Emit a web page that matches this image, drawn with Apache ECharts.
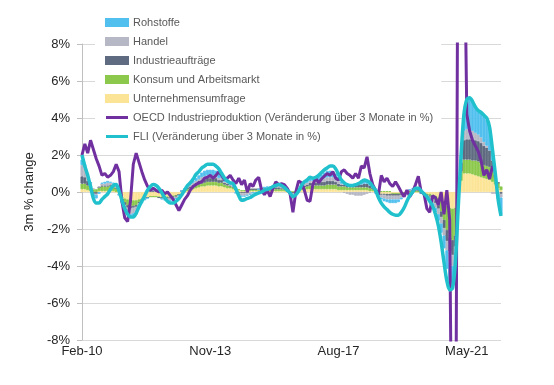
<!DOCTYPE html>
<html><head><meta charset="utf-8">
<script src="https://cdn.jsdelivr.net/npm/echarts@6/dist/echarts.min.js"></script>
<style>html,body{margin:0;padding:0;background:#fff}#c{width:554px;height:385px}</style>
</head><body><div id="c"></div>
<script>
// Categories: monthly from Feb-10, 148 months
const monthNames=['Jan','Feb','Mar','Apr','May','Jun','Jul','Aug','Sep','Oct','Nov','Dec'];
const categories=[];
for(let k=0;k<148;k++){const m=(1+k)%12;const y=2010+Math.floor((1+k)/12);categories.push(monthNames[m]+'-'+String(y%100).padStart(2,'0'));}
const tickLabels=['Feb-10','Nov-13','Aug-17','May-21'];
const yTicks=[-8,-6,-4,-2,0,2,4,6,8];

const unternehmensumfrage=[
0.15,0.15,0.1,0.05,0,0,0.05,0.05,0.05,0.05,0.05,0.05,0,
-0.1,-0.25,-0.35,-0.4,-0.45,-0.45,-0.45,-0.4,-0.35,-0.3,
-0.3,-0.25,-0.25,-0.25,-0.25,-0.25,-0.25,-0.25,-0.25,-0.2,-0.2,-0.15,-0.1,
0,0.05,0.1,0.15,0.2,0.25,0.3,0.3,0.35,0.35,0.35,0.35,0.3,0.3,0.25,0.2,0.2,0.15,
0.1,0.1,0.05,0.05,0.05,0.05,0.05,0.05,0.05,0.05,0.05,0.05,0.05,0.05,0.05,0.05,0.05,0.05,0,
0,0,0,
0.05,0.1,0.1,0.15,0.15,0.15,0.15,0.15,0.15,0.15,0.15,0.15,0.15,0.15,0.1,
0.1,0.1,0.1,0.1,0.1,0.1,0.1,0.1,0.1,0.1,0.05,0.05,0,
-0.05,-0.1,-0.1,-0.1,-0.1,-0.1,-0.1,-0.1,-0.1,-0.05,-0.05,0,0,0,0,-0.05,
-0.05,-0.1,-0.1,-0.15,-0.2,-0.3,-0.45,-0.6,-0.75,-0.85,-0.9,-0.85,-0.2,
0.6,1.0,1.0,1.0,0.95,0.9,0.85,0.8,0.75,0.7,0.65,0.55,0.4,0.2,0.1];

const konsum=[
0.3,0.3,0.25,0.2,0.15,0.15,0.2,0.25,0.25,0.25,0.3,0.3,0.2,
0.05,-0.1,-0.2,-0.3,-0.3,-0.3,-0.25,-0.15,-0.1,-0.05,
0,0,0,0,-0.05,-0.05,-0.05,-0.05,-0.05,-0.05,0,0,0.05,
0.05,0.1,0.1,0.1,0.15,0.15,0.15,0.2,0.2,0.2,0.2,0.2,0.2,0.2,0.15,0.15,0.1,0.1,
0.05,0.05,0.05,0.05,0.05,0.1,0.1,0.1,0.1,0.1,0.1,0.1,0.1,0.1,0.1,0.1,0.1,0.1,0.05,
0,0,0,
0.05,0.1,0.15,0.15,0.2,0.2,0.2,0.2,0.2,0.2,0.25,0.25,0.25,0.25,0.2,
0.2,0.2,0.15,0.15,0.15,0.15,0.15,0.15,0.15,0.15,0.15,0.1,0.05,
0.05,0.05,0.05,0.05,0.05,0,0,0,0,0,0.05,0.05,0.05,0.05,0.05,0,
-0.05,-0.05,-0.1,-0.15,-0.25,-0.4,-0.6,-0.9,-1.3,-1.6,-1.7,-1.5,-0.2,
0.5,0.75,0.75,0.75,0.75,0.8,0.8,0.75,0.7,0.7,0.7,0.55,0.35,0.3,0.2];

const industrieauftraege=[
0.4,0.35,0.25,0.1,-0.1,-0.1,0,0.05,0.05,0.05,0.05,0,0,
-0.05,-0.1,-0.15,-0.15,-0.15,-0.1,-0.1,-0.05,0,0,
0,0.05,0.05,0.05,0,-0.05,-0.05,-0.05,-0.05,-0.05,-0.05,0,0,
0.05,0.1,0.1,0.15,0.15,0.2,0.2,0.2,0.2,0.2,0.2,0.2,0.15,0.15,0.1,0.1,0.05,0.05,
0,-0.05,-0.05,-0.05,-0.05,0,0,0,0,0.05,0.05,0.05,0.05,0.1,0.1,0.1,0.05,0.05,0,
-0.05,-0.05,-0.05,
0,0.05,0.1,0.1,0.15,0.15,0.15,0.15,0.2,0.2,0.2,0.2,0.2,0.15,0.15,
0.1,0.1,0.1,0.1,0.1,0.1,0.15,0.15,0.2,0.2,0.15,0.1,0.05,
0,-0.05,-0.05,-0.1,-0.1,-0.1,-0.1,-0.1,-0.05,-0.05,0,0.05,0.05,0.05,0.05,0,
-0.05,-0.05,-0.05,-0.1,-0.15,-0.2,-0.3,-0.45,-0.6,-0.75,-0.8,-0.6,-0.1,
0.5,1.05,1.1,1.1,1.1,1.1,1.1,1.1,1.05,1.0,0.9,0.6,0.2,0,-0.1];

const handel=[
0.6,0.5,0.3,0.15,0.05,-0.05,0.05,0.1,0.1,0.15,0.1,0.1,0.1,
0,-0.1,-0.2,-0.25,-0.3,-0.3,-0.25,-0.15,-0.05,0,
0.05,0.05,0.05,0.05,0.05,0,-0.05,-0.1,-0.1,-0.1,-0.1,-0.05,0,
0.05,0.05,0.1,0.1,0.1,0.1,0.15,0.15,0.15,0.15,0.15,0.1,0.1,0.1,0.05,0.05,0.05,0,
-0.05,-0.1,-0.15,-0.15,-0.1,-0.1,-0.05,-0.05,0,0,0.05,0.05,0.05,0.05,0.1,0.1,0.1,0.05,0.05,
-0.05,-0.1,-0.05,
0,0.05,0.1,0.1,0.1,0.1,0.1,0.15,0.15,0.2,0.2,0.2,0.2,0.2,0.15,
0.05,-0.05,-0.1,-0.15,-0.15,-0.2,-0.2,-0.2,-0.15,-0.1,-0.05,0,-0.05,
-0.1,-0.15,-0.2,-0.2,-0.2,-0.2,-0.2,-0.2,-0.15,-0.1,-0.05,0,0.05,0.05,0.05,0,
-0.05,-0.1,-0.15,-0.2,-0.25,-0.3,-0.35,-0.4,-0.5,-0.6,-0.6,-0.4,-0.1,
0.2,0.5,0.55,0.5,0.5,0.4,0.35,0.3,0.2,0.1,0,-0.1,-0.1,-0.1,-0.2];

const rohstoffe=[
0.3,0.2,0.1,0,-0.15,-0.2,-0.1,0.05,0.1,0.1,0.05,0.05,0.05,
0,-0.05,-0.1,-0.1,-0.1,-0.15,-0.15,-0.1,-0.1,-0.1,
-0.05,0.05,0.05,0.05,0,-0.05,-0.05,-0.05,-0.05,-0.05,0,0,0,
0.05,0.05,0.05,0.1,0.15,0.2,0.25,0.3,0.3,0.3,0.3,0.3,0.25,0.2,0.15,0.1,0.05,0.05,
0,-0.05,-0.05,-0.05,-0.05,-0.05,0,0,0,0,0,0.05,0.05,0.05,0.05,0.05,0.05,0,0,
-0.05,-0.1,-0.05,
0,0.05,0.05,0.1,0.15,0.1,0.15,0.2,0.25,0.3,0.35,0.35,0.3,0.25,0.2,
0.1,0.05,0.05,0.05,0.05,0.1,0.1,0.15,0.15,0.15,0.1,0.05,0,
-0.05,-0.1,-0.15,-0.15,-0.2,-0.2,-0.2,-0.15,-0.1,-0.05,0,0.05,0.05,0.1,0.05,0,
-0.05,-0.1,-0.15,-0.2,-0.25,-0.35,-0.5,-0.7,-1.0,-1.2,-1.2,-0.8,0,
0.2,0.9,1.6,1.7,1.55,1.4,1.3,1.35,1.4,1.4,1.2,0.6,0.1,-0.3,-0.9];

const oecd=[
2.0,2.6,2.1,2.8,2.3,1.8,1.4,0.9,1.0,0.8,0.9,1.1,1.5,1.1,-0.5,-1.4,-1.6,-0.5,1.5,2.1,
1.6,1.1,0.65,0.3,0.1,0.2,0.1,0.0,0.1,-0.1,0.0,-0.2,-0.4,-0.7,-1.0,-0.7,-0.4,-0.2,0.1,0.3,
0.4,0.5,0.55,0.75,0.8,0.9,0.75,0.9,1.1,0.9,0.65,0.75,0.9,0.65,0.45,0.75,0.4,0.65,0.0,0.45,
0.3,0.65,0.8,0.1,-0.15,0.1,-0.25,0.2,0.55,0.4,0.45,0.4,0.2,-0.1,-1.1,0.0,0.6,0.5,0.1,-0.45,
-0.5,0.4,0.75,0.5,0.7,0.85,1.0,0.9,1.1,0.75,0.65,1.1,1.2,1.0,0.9,0.75,1.0,0.75,1.4,1.3,
1.9,1.0,0.4,0.1,-0.15,0.9,0.55,0.75,0.45,0.3,0.55,0.3,0.0,-0.25,0.1,-0.25,0.0,0.4,0.85,0.0,
-0.1,-0.9,-1.1,-0.2,-0.3,-0.7,0.0,-1.2,0.1,-1.5,-20,-20,20,20,16,4.2,3.3,2.8,2.5,2.2,
1.7,0.9,1.2,0.7,1.4];

const fli=[
2.0,1.4,0.9,0.3,-0.35,-0.6,-0.6,-0.4,-0.25,-0.1,0.15,0.35,0.4,0.05,-0.45,-0.9,-1.2,-1.35,-1.35,-1.15,
-0.8,-0.5,-0.2,0.1,0.3,0.4,0.35,0.2,-0.05,-0.3,-0.5,-0.6,-0.6,-0.5,-0.35,-0.15,0.1,0.35,0.5,0.7,
0.95,1.1,1.3,1.4,1.5,1.5,1.5,1.4,1.25,1.0,0.75,0.6,0.5,0.45,0.15,-0.2,-0.45,-0.42,-0.35,-0.3,
-0.2,-0.12,-0.05,0.0,0.1,0.15,0.2,0.3,0.35,0.4,0.35,0.25,0.1,-0.05,-0.25,-0.15,0.05,0.35,0.55,0.65,
0.8,0.75,0.8,0.9,1.05,1.2,1.3,1.4,1.4,1.25,0.95,0.65,0.5,0.4,0.35,0.35,0.4,0.45,0.55,0.65,
0.6,0.5,0.3,0.1,-0.3,-0.6,-0.8,-0.95,-1.1,-1.2,-1.25,-1.25,-1.1,-0.85,-0.5,-0.2,0.0,0.2,0.2,0.05,
-0.1,-0.25,-0.5,-0.75,-1.2,-1.8,-2.7,-3.8,-4.8,-5.3,-5.2,-3.8,-0.8,2.0,4.2,5.0,5.1,4.9,4.6,4.4,
4.3,4.15,4.0,3.5,2.3,1.0,-0.4,-1.3];

const FONT='"Liberation Sans", Arial, sans-serif';
const LINE_ICON='path://M0,0h0.05v0.05h-0.05z M0,2h23v3h-23z M22.95,6.95h0.05v0.05h-0.05z';
const barSeries=[
 {name:'Unternehmensumfrage',data:unternehmensumfrage,color:'#FCE497'},
 {name:'Konsum und Arbeitsmarkt',data:konsum,color:'#8CC84B'},
 {name:'Industrieaufträge',data:industrieauftraege,color:'#5F6B80'},
 {name:'Handel',data:handel,color:'#B6B8C5'},
 {name:'Rohstoffe',data:rohstoffe,color:'#52C0EF'}
].map(s=>({name:s.name,type:'bar',stack:'total',data:s.data,barWidth:3,large:false,
  itemStyle:{color:s.color,borderColor:s.color,borderWidth:0.8,opacity:1},
  emphasis:{disabled:true},animation:false}));

const chart=echarts.init(document.getElementById('c'),null,{renderer:'canvas'});
chart.setOption({
 animation:false,
 textStyle:{fontFamily:FONT},
 grid:{left:82,right:53,top:44,bottom:45,containLabel:false},
 legend:{
  orient:'vertical',left:95,top:10,
  padding:[6,8,6,10],backgroundColor:'#ffffff',
  itemWidth:22,itemHeight:7,itemGap:6,
  textStyle:{fontFamily:FONT,fontSize:11,color:'#595959',lineHeight:13},
  data:[
   {name:'Rohstoffe',icon:'rect'},
   {name:'Handel',icon:'rect'},
   {name:'Industrieaufträge',icon:'rect'},
   {name:'Konsum und Arbeitsmarkt',icon:'rect'},
   {name:'Unternehmensumfrage',icon:'rect'},
   {name:'OECD Industrieproduktion (Veränderung über 3 Monate in %)',icon:LINE_ICON},
   {name:'FLI (Veränderung über 3 Monate in %)',icon:LINE_ICON}
  ]
 },
 xAxis:{
  type:'category',data:categories,boundaryGap:false,
  axisLine:{show:false},axisTick:{show:false},splitLine:{show:false},
  axisLabel:{interval:(i,v)=>tickLabels.includes(v),fontFamily:FONT,fontSize:13,color:'#262626',margin:5}
 },
 yAxis:{
  type:'value',min:yTicks[0],max:yTicks[yTicks.length-1],interval:2,
  name:'3m % change',nameLocation:'middle',nameGap:38,nameRotate:90,
  nameTextStyle:{fontFamily:FONT,fontSize:13,color:'#262626'},
  axisLine:{show:true,lineStyle:{color:'#BFBFBF',width:1}},
  axisTick:{show:true,length:5,lineStyle:{color:'#BFBFBF'}},
  splitLine:{show:true,lineStyle:{color:'#D9D9D9',width:1}},
  axisLabel:{formatter:v=>v+'%',fontFamily:FONT,fontSize:13,color:'#262626',margin:12}
 },
 series:[
  ...barSeries,
  {name:'OECD Industrieproduktion (Veränderung über 3 Monate in %)',type:'line',data:oecd,
   symbol:'none',showSymbol:false,clip:true,z:3,
   lineStyle:{color:'#7030A0',width:3},itemStyle:{color:'#7030A0'}},
  {name:'FLI (Veränderung über 3 Monate in %)',type:'line',data:fli,smooth:0.3,
   symbol:'none',showSymbol:false,clip:true,z:4,
   lineStyle:{color:'#20C1CC',width:3.5},itemStyle:{color:'#20C1CC'}}
 ]
});
</script>
</body></html>
